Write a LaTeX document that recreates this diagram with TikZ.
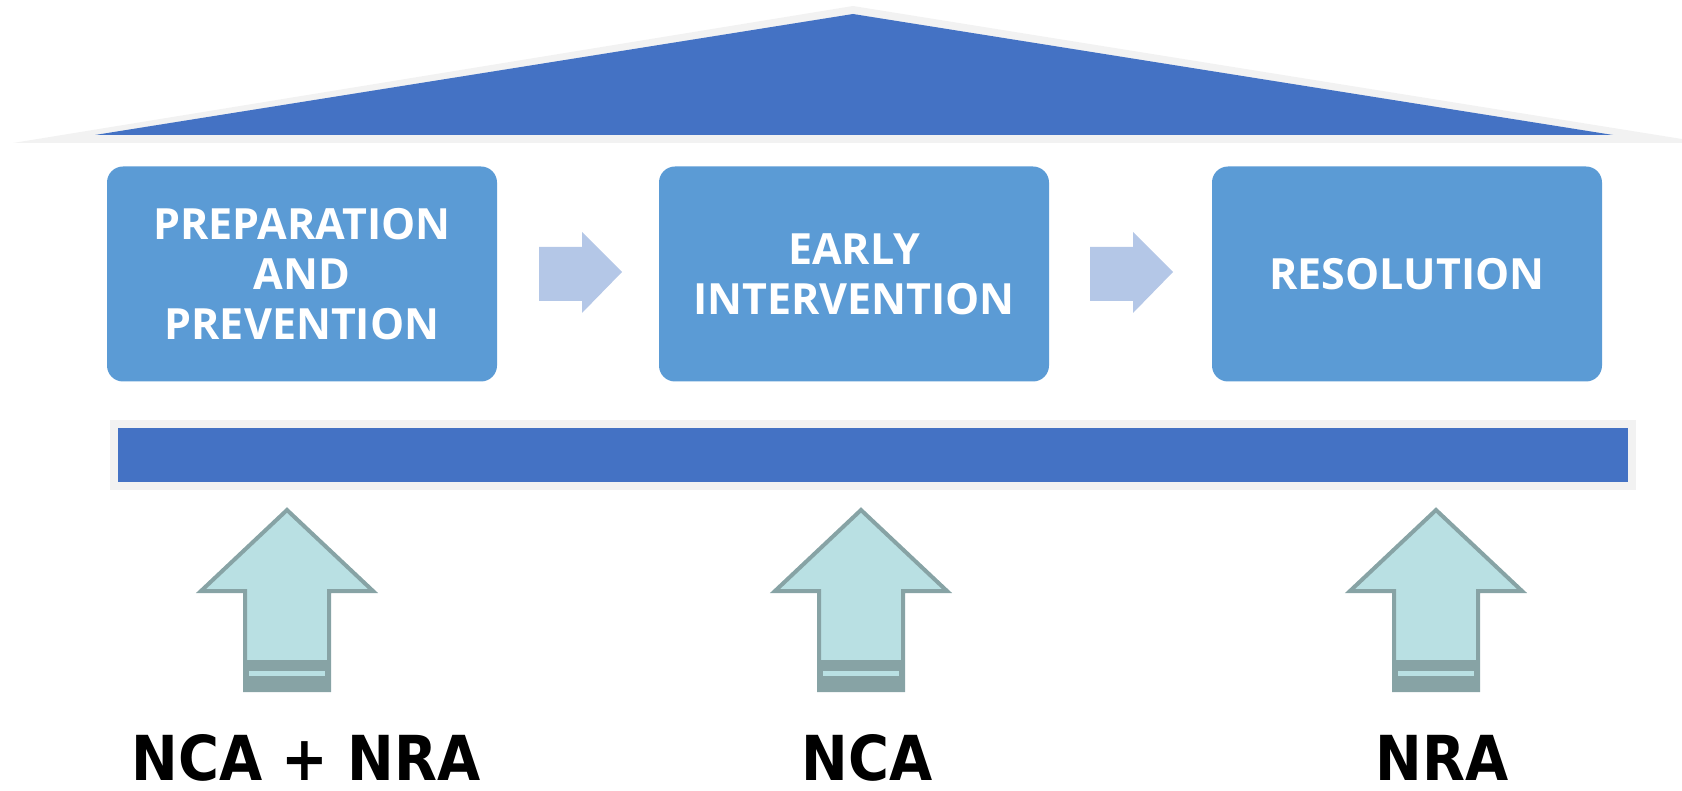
\documentclass[tikz,border=0pt]{standalone}
\usepackage{fontspec}
\setmainfont{Open Sans}
\newfontfamily\labelfont[FakeStretch=0.9]{DejaVu Sans}
\definecolor{roofblue}{HTML}{4472C4}
\definecolor{boxblue}{HTML}{5B9BD5}
\definecolor{edgegray}{HTML}{F2F2F2}
\definecolor{steparrow}{HTML}{B4C7E7}
\definecolor{pillarfill}{HTML}{B9E0E3}
\definecolor{pillaredge}{HTML}{87A3A5}
\tikzset{
  stage/.style={fill=boxblue,rounded corners=16pt,minimum width=390pt,
    minimum height=215pt,align=center,text=white,
    font=\bfseries\fontsize{43}{50}\selectfont},
  tag/.style={anchor=base,inner sep=0pt,
    font=\labelfont\bfseries\fontsize{62}{62}\selectfont}
}
\begin{document}
\begin{tikzpicture}[x=1pt,y=-1pt]
  \useasboundingbox (0,0) rectangle (1682,791);
  % roof
  \fill[edgegray] (13,143) -- (853,6) -- (1682,139) -- (1682,143) -- cycle;
  \fill[roofblue] (95,135) -- (853,14) -- (1613,135) -- cycle;
  % stages
  \node[stage] (prep) at (302,274) {PREPARATION\\AND\\PREVENTION};
  \node[stage] (early) at (854,274) {EARLY\\INTERVENTION};
  \node[stage] (resol) at (1407,274) {RESOLUTION};
  \foreach \dx in {0,551}
    \fill[steparrow,xshift=\dx] (539,247) -- (582,247) -- (582,232) -- (622,272)
      -- (582,313) -- (582,301) -- (539,301) -- cycle;
  % floor
  \fill[edgegray] (110,420) rectangle (1636,490);
  \fill[roofblue] (118,428) rectangle (1628,482);
  % pillars
  \foreach \x in {287,861,1436} {
    \filldraw[pillarfill,draw=pillaredge,line width=4pt,xshift=\x]
      (0,510) -- (86,591) -- (42,591) -- (42,690) -- (-42,690) -- (-42,591)
      -- (-86,591) -- cycle;
    \fill[pillaredge,xshift=\x] (-42,660) rectangle (42,692);
    \fill[pillarfill,xshift=\x] (-38,671) rectangle (38,676);
  }
  \node[tag] (both) at (306,780) {NCA + NRA};
  \node[tag] (nca) at (867,780) {NCA};
  \node[tag] (nra) at (1442,780) {NRA};
\end{tikzpicture}
\end{document}
